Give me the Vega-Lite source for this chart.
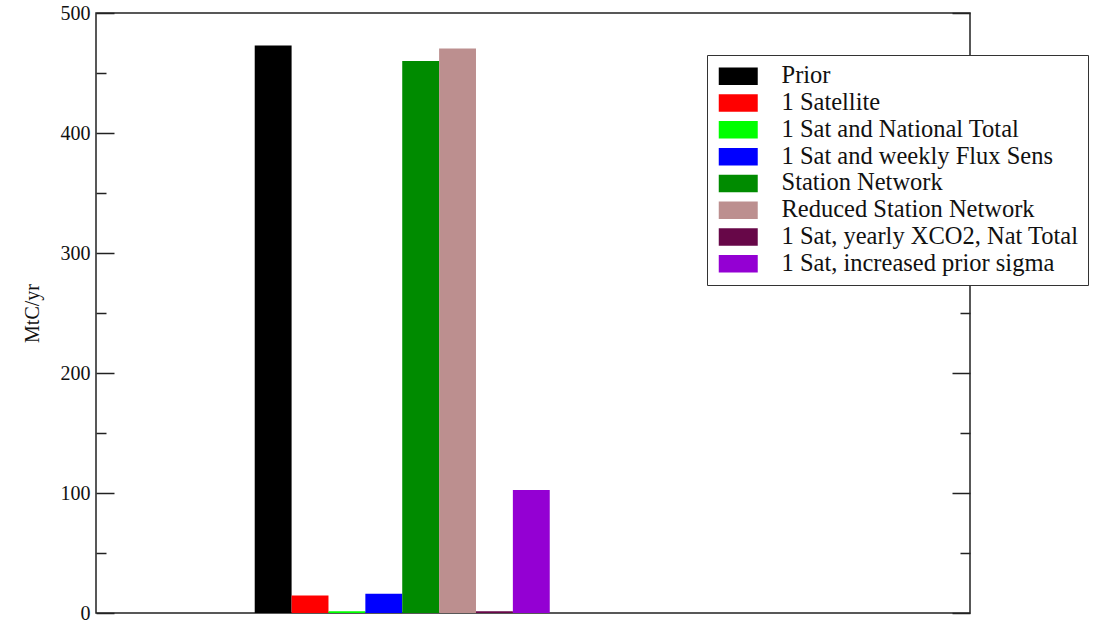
{
  "$schema": "https://vega.github.io/schema/vega-lite/v6.json",
  "width": 874,
  "height": 600,
  "autosize": {"type": "none"},
  "padding": {"left": 96, "top": 13, "right": 129, "bottom": 11},
  "background": "white",
  "config": {
    "view": {"stroke": "#222", "strokeWidth": 1.5},
    "font": "Liberation Serif"
  },
  "data": {
    "values": [
      {"series": "Prior", "start": 0, "end": 1, "value": 473},
      {"series": "1 Satellite", "start": 1, "end": 2, "value": 14.5},
      {"series": "1 Sat and National Total", "start": 2, "end": 3, "value": 1.5},
      {"series": "1 Sat and weekly Flux Sens", "start": 3, "end": 4, "value": 16},
      {"series": "Station Network", "start": 4, "end": 5, "value": 460},
      {"series": "Reduced Station Network", "start": 5, "end": 6, "value": 470.5},
      {"series": "1 Sat, yearly XCO2, Nat Total", "start": 6, "end": 7, "value": 1.5},
      {"series": "1 Sat, increased prior sigma", "start": 7, "end": 8, "value": 102.5}
    ]
  },
  "encoding": {
    "x": {
      "field": "start",
      "type": "quantitative",
      "axis": null,
      "scale": {"domain": [-4.304, 19.396], "nice": false, "zero": false}
    },
    "x2": {"field": "end"},
    "y2": {"datum": 0}
  },
  "layer": [
    {
      "mark": {"type": "bar"},
      "encoding": {
        "y": {
          "field": "value",
          "type": "quantitative",
          "scale": {"domain": [0, 500], "nice": false, "zero": true},
          "axis": {
            "orient": "left",
            "values": [0, 100, 200, 300, 400, 500],
            "tickSize": -18,
            "tickColor": "#222",
            "tickWidth": 1.5,
            "labelPadding": 24,
            "labelFontSize": 20,
            "labelColor": "#111",
            "labelFont": "Liberation Serif",
            "domain": false,
            "grid": false,
            "title": "MtC/yr",
            "titleFontSize": 20,
            "titleFontWeight": "normal",
            "titleFont": "Liberation Serif",
            "titleColor": "#111",
            "titlePadding": 18
          }
        },
        "color": {
          "field": "series",
          "type": "nominal",
          "sort": null,
          "scale": {
            "domain": ["Prior", "1 Satellite", "1 Sat and National Total", "1 Sat and weekly Flux Sens", "Station Network", "Reduced Station Network", "1 Sat, yearly XCO2, Nat Total", "1 Sat, increased prior sigma"],
            "range": ["#000000", "#ff0000", "#00ff00", "#0000ff", "#008b00", "#bc8f8f", "#670748", "#9400d3"]
          },
          "legend": {
            "orient": "none",
            "legendX": 611,
            "legendY": 42,
            "title": null,
            "symbolType": "M-2,-0.9H2V0.9H-2Z",
            "symbolSize": 380,
            "symbolStrokeWidth": 0,
            "symbolOffset": 10,
            "labelFontSize": 24.5,
            "labelFont": "Liberation Serif",
            "labelColor": "#111",
            "labelOffset": 31,
            "labelLimit": 500,
            "padding": 9,
            "rowPadding": 1.8,
            "strokeColor": "#333",
            "fillColor": "white"
          }
        }
      }
    },
    {
      "mark": {"type": "bar", "opacity": 0},
      "encoding": {
        "y": {
          "field": "value",
          "type": "quantitative",
          "scale": {"domain": [0, 500], "nice": false},
          "axis": {"orient": "left", "values": [50, 150, 250, 350, 450], "tickSize": -10, "tickColor": "#222", "tickWidth": 1.5, "labels": false, "domain": false, "grid": false, "title": null}
        }
      }
    },
    {
      "mark": {"type": "bar", "opacity": 0},
      "encoding": {
        "y": {
          "field": "value",
          "type": "quantitative",
          "scale": {"domain": [0, 500], "nice": false},
          "axis": {"orient": "right", "values": [0, 100, 200, 300, 400, 500], "tickSize": -18, "tickColor": "#222", "tickWidth": 1.5, "labels": false, "domain": false, "grid": false, "title": null}
        }
      }
    },
    {
      "mark": {"type": "bar", "opacity": 0},
      "encoding": {
        "y": {
          "field": "value",
          "type": "quantitative",
          "scale": {"domain": [0, 500], "nice": false},
          "axis": {"orient": "right", "values": [50, 150, 250, 350, 450], "tickSize": -10, "tickColor": "#222", "tickWidth": 1.5, "labels": false, "domain": false, "grid": false, "title": null}
        }
      }
    }
  ],
  "resolve": {"axis": {"y": "independent"}}
}
